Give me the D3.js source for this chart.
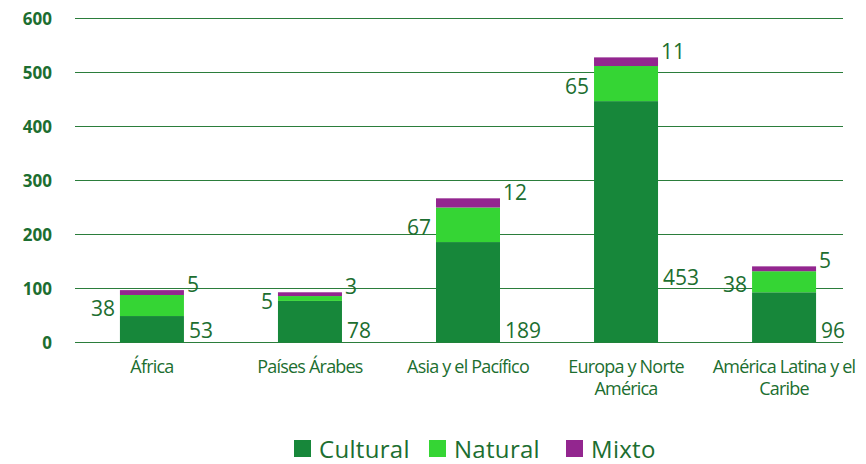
<!DOCTYPE html>
<html><head><meta charset="utf-8">
<script src="https://cdn.jsdelivr.net/npm/d3@7"></script>
<style>body{margin:0;background:#fff}</style>
</head><body>
<svg id="c" width="866" height="464"></svg>
<script>
const categories = ["África", "Países Árabes", "Asia y el Pacífico", "Europa y Norte América", "América Latina y el Caribe"];
const categoryLines = [["África"], ["Países Árabes"], ["Asia y el Pacífico"], ["Europa y Norte", "América"], ["América Latina y el", "Caribe"]];
// bar segment heights as drawn in the picture
const cultural = [49, 77, 186, 447, 93];
const natural = [39, 9, 64, 65, 39];
const mixto = [9, 7, 17, 16, 9];
// data-label texts as printed on the picture
const culturalLabels = [53, 78, 189, 453, 96];
const naturalLabels = [38, 5, 67, 65, 38];
const mixtoLabels = [5, 3, 12, 11, 5];
const seriesNames = ["Cultural", "Natural", "Mixto"];
const yTicks = [0, 100, 200, 300, 400, 500, 600];

(function () {
const colors = ["#17873a", "#35d534", "#93268f"];
const textGreen = "#1c6e30";
const svg = d3.select("#c");
const mLeft = 73, mRight = 863, gridRight = 843, mTop = 18.5, mBottom = 342.5;

const x = d3.scaleBand().domain(categories).range([mLeft, mRight]).paddingInner(0.595).paddingOuter(0.297);
const y = d3.scaleLinear().domain([0, 600]).range([mBottom, mTop]);

svg.append("g").selectAll("line").data(yTicks).join("line")
  .attr("x1", 75).attr("x2", gridRight).attr("y1", d => y(d)).attr("y2", d => y(d))
  .attr("stroke", "#2b7d3b").attr("stroke-width", 1);
svg.append("g").selectAll("text").data(yTicks).join("text")
  .attr("x", 52).attr("y", d => y(d)).attr("dy", "0.36em").attr("text-anchor", "end")
  .attr("font-family", "Open Sans, sans-serif").attr("font-weight", 700).attr("font-size", 17)
  .attr("fill", textGreen).text(d => d);

const rows = categories.map((c, i) => ({cat: c, Cultural: cultural[i], Natural: natural[i], Mixto: mixto[i],
  cl: culturalLabels[i], nl: naturalLabels[i], ml: mixtoLabels[i]}));
const stack = d3.stack().keys(seriesNames)(rows);

svg.append("g").selectAll("g").data(stack).join("g").attr("fill", (d, i) => colors[i])
  .selectAll("rect").data(d => d).join("rect")
  .attr("x", d => x(d.data.cat)).attr("width", x.bandwidth())
  .attr("y", d => y(d[1])).attr("height", d => y(d[0]) - y(d[1]));

const lbl = svg.append("g").attr("font-family", "Open Sans, sans-serif").attr("font-size", 21).attr("fill", textGreen);
lbl.selectAll(".cl").data(rows).join("text")
  .attr("x", d => x(d.cat) + x.bandwidth() + 5)
  .attr("y", d => d.cl > 300 ? y(d.cl * 0.265) : mBottom - 12.5)
  .attr("dy", "0.36em").text(d => d.cl);
lbl.selectAll(".nl").data(rows).join("text")
  .attr("x", d => x(d.cat) - 5).attr("text-anchor", "end")
  .attr("y", d => y(d.Cultural + d.Natural / 2) + 3)
  .attr("dy", "0.36em").text(d => d.nl);
lbl.selectAll(".ml").data(rows).join("text")
  .attr("x", d => x(d.cat) + x.bandwidth() + 3)
  .attr("y", d => y(d.Cultural + d.Natural + d.Mixto) - 6)
  .attr("dy", "0.36em").text(d => d.ml);

const cl = svg.append("g").attr("font-family", "Open Sans, sans-serif").attr("font-size", 18)
  .attr("fill", textGreen).attr("text-anchor", "middle").attr("letter-spacing", "-0.8");
categoryLines.forEach((lines, i) => {
  const cx = x(categories[i]) + x.bandwidth() / 2;
  const t = cl.append("text").attr("x", cx).attr("y", 373);
  lines.forEach((ln, j) => t.append("tspan").attr("x", cx).attr("dy", j ? 22 : 0).text(ln));
});

const legX = [294, 429, 566];
const lg = svg.append("g");
seriesNames.forEach((s, i) => {
  lg.append("rect").attr("x", legX[i]).attr("y", 440).attr("width", 17).attr("height", 17).attr("fill", colors[i]);
  lg.append("text").attr("x", legX[i] + 25).attr("y", 458)
    .attr("font-family", "Open Sans, sans-serif").attr("font-size", 24).attr("letter-spacing", "0.3").attr("fill", textGreen).text(s);
});
})();
</script>
</body></html>
